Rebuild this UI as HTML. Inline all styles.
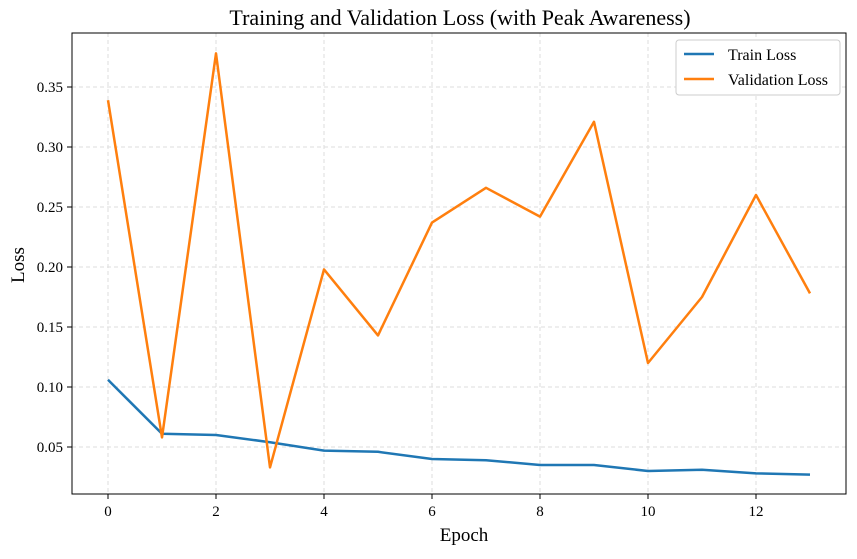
<!DOCTYPE html>
<html><head><meta charset="utf-8"><style>
body{margin:0;background:#fff;}
svg text{font-family:"Liberation Serif",serif;fill:#000;}
</style></head><body>
<svg id="chart" width="857" height="554" xmlns="http://www.w3.org/2000/svg">
<rect width="857" height="554" fill="#fff"/>
<text x="460" y="25" font-size="22" text-anchor="middle">Training and Validation Loss (with Peak Awareness)</text>
<g id="grid"></g>
<g id="ticks"></g>
<g id="series"></g>
<rect x="72" y="33" width="774" height="461" fill="none" stroke="#000" stroke-width="1"/>
<text x="464" y="541" font-size="19" text-anchor="middle">Epoch</text>
<text x="24" y="265" font-size="19" text-anchor="middle" transform="rotate(-90 24 265)">Loss</text>
<g>
<rect x="676" y="40" width="164" height="55" rx="3" fill="#fff" stroke="#ccc"/>
<g><line x1="684" y1="54" x2="714" y2="54" stroke="#1f77b4" stroke-width="2.5"/><text x="728" y="60" font-size="16">Train Loss</text></g>
<g><line x1="684" y1="79" x2="714" y2="79" stroke="#ff7f0e" stroke-width="2.5"/><text x="728" y="85" font-size="16">Validation Loss</text></g>
</g>
</svg>
<script>
const epochs=[0,1,2,3,4,5,6,7,8,9,10,11,12,13];
const trainLoss=[0.106,0.061,0.060,0.054,0.047,0.046,0.040,0.039,0.035,0.035,0.030,0.031,0.028,0.027];
const valLoss=[0.339,0.058,0.378,0.033,0.198,0.143,0.237,0.266,0.242,0.321,0.120,0.175,0.260,0.178];
const xTicks=[0,2,4,6,8,10,12];
const yTicks=[0.05,0.10,0.15,0.20,0.25,0.30,0.35];
const NS="http://www.w3.org/2000/svg";
const xs=v=>108+v*54;
const ys=v=>447-(v-0.05)*1200;
const grid=document.getElementById('grid'),ticks=document.getElementById('ticks'),series=document.getElementById('series');
function mk(t,a,p){const e=document.createElementNS(NS,t);for(const k in a)e.setAttribute(k,a[k]);p.appendChild(e);return e;}
xTicks.forEach(t=>{
  const g=mk('line',{x1:xs(t),x2:xs(t),y1:33,y2:494,stroke:'#ddd','stroke-dasharray':'4,3'},grid);
  
  
  const l=mk('line',{x1:xs(t),x2:xs(t),y1:494,y2:499,stroke:'#000'},ticks);
  
  
  const tx=mk('text',{x:xs(t),y:516,'font-size':15,'text-anchor':'middle'},ticks);tx.textContent=t;
  
  
});
yTicks.forEach(t=>{
  const g=mk('line',{x1:72,x2:846,y1:ys(t),y2:ys(t),stroke:'#ddd','stroke-dasharray':'4,3'},grid);
  
  
  const l=mk('line',{x1:67,x2:72,y1:ys(t),y2:ys(t),stroke:'#000'},ticks);
  
  
  const tx=mk('text',{x:63,y:ys(t)+5,'font-size':15,'text-anchor':'end'},ticks);tx.textContent=t.toFixed(2);
  
  
});
function line(vals,color,name){
  const p=mk('polyline',{points:vals.map((v,i)=>xs(epochs[i])+','+ys(v)).join(' '),fill:'none',stroke:color,'stroke-width':2.5,'stroke-linejoin':'round'},series);
  
  
}
line(trainLoss,'#1f77b4','train-loss-line');
line(valLoss,'#ff7f0e','validation-loss-line');
</script>
</body></html>
